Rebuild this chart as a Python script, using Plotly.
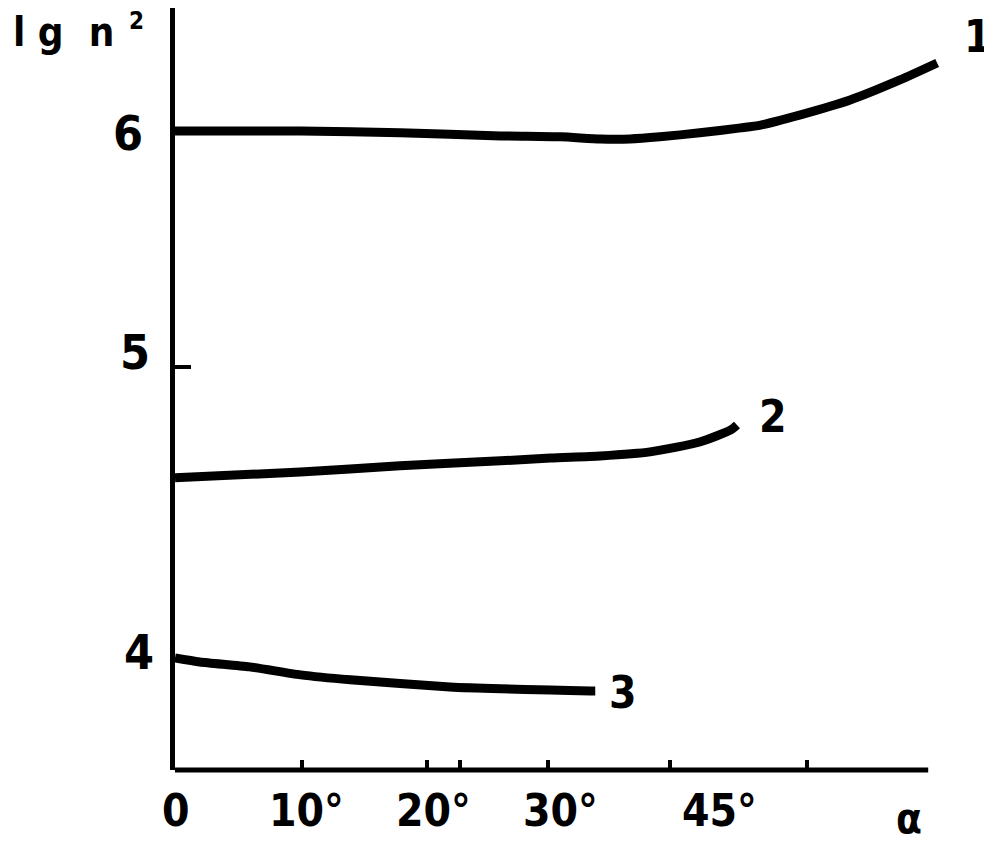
import plotly.graph_objects as go

# ---- data (alpha in degrees, lg n^2) ----
c1_alpha = [0, 6.0, 10.1, 18.1, 26.2, 31.0, 34.2, 36.6, 39.0, 42.2, 45.5, 47.1, 50.3, 54.3, 58.3, 61.3]
c1_lgn2 = [6.0, 6.0, 6.0, 5.992, 5.979, 5.975, 5.966, 5.966, 5.975, 5.992, 6.013, 6.025, 6.068, 6.131, 6.216, 6.288]

c2_alpha = [0, 10.1, 18.1, 26.2, 30.2, 34.2, 38.2, 42.2, 44.7, 45.2]
c2_lgn2 = [4.530, 4.555, 4.581, 4.602, 4.614, 4.623, 4.640, 4.682, 4.733, 4.754]

c3_alpha = [0, 2.0, 6.0, 10.1, 14.1, 22.1, 26.2, 30.2, 33.4, 33.8]
c3_lgn2 = [3.767, 3.750, 3.729, 3.695, 3.674, 3.644, 3.636, 3.631, 3.627, 3.627]

curve_labels = ["1", "2", "3"]
curve_label_pos = [(64.6, 6.40), (48.1, 4.79), (36.0, 3.62)]

x_tick_marks = [10.2, 20.3, 22.9, 30.0, 39.8, 50.8]
x_label_text = ["0", "10°", "20°", "30°", "45°"]
x_label_pos = [0.1, 10.6, 20.8, 31.0, 43.8]
y_tick_marks = [5]
y_label_text = ["6", "5", "4"]
y_label_pos = [5.99, 5.064, 3.792]
y_label_x = [-3.8, -3.2, -2.9]

X_RANGE = [0, 61.93]
X_AXIS_END = 60.58
Y_RANGE = [3.292, 6.521]

FONT = "DejaVu Sans Condensed"


def px(x):
    return (x - X_RANGE[0]) / (X_RANGE[1] - X_RANGE[0])


def py(y):
    return (y - Y_RANGE[0]) / (Y_RANGE[1] - Y_RANGE[0])


fig = go.Figure()
for xs, ys in [(c1_alpha, c1_lgn2), (c2_alpha, c2_lgn2), (c3_alpha, c3_lgn2)]:
    fig.add_trace(go.Scatter(x=xs, y=ys, mode="lines",
                             line=dict(color="black", width=9, shape="spline", smoothing=0.6),
                             showlegend=False, hoverinfo="skip"))

F = dict(family=FONT, size=44, color="black", weight="bold")
FY = dict(family=FONT, size=48, color="black", weight="bold")
A = dict(xref="paper", yref="paper", showarrow=False, xanchor="center", yanchor="middle")
annotations = []
for t, (x, y) in zip(curve_labels, curve_label_pos):
    annotations.append(dict(x=px(x), y=py(y), text=t, font=F, **A))
for t, x in zip(x_label_text, x_label_pos):
    annotations.append(dict(x=px(x), y=py(3.119), text=t, font=F, **A))
for t, x, y in zip(y_label_text, y_label_x, y_label_pos):
    annotations.append(dict(x=px(x), y=py(y), text=t, font=FY, **A))
annotations.append(dict(x=px(59.0), y=py(3.085), text="α",
                        font=dict(family=FONT, size=42, color="black", weight="bold"), **A))
annotations.append(dict(x=px(-9.0), y=py(6.42), text="l g  n",
                        font=dict(family=FONT, size=40, color="black", weight="bold"), **A))
annotations.append(dict(x=px(-3.1), y=py(6.465), text="2",
                        font=dict(family=FONT, size=24, color="black", weight="bold"), **A))

fig.add_shape(type="line", xref="x", yref="y domain", x0=0, x1=X_AXIS_END, y0=0, y1=0,
              line=dict(color="black", width=5))

fig.update_layout(
    width=984, height=836,
    margin=dict(l=167, r=47, t=0, b=74),
    paper_bgcolor="white", plot_bgcolor="white",
    annotations=annotations,
    xaxis=dict(range=X_RANGE, showgrid=False, zeroline=False, showline=False,
               tickvals=x_tick_marks, ticks="inside", ticklen=10, tickwidth=4,
               tickcolor="black", showticklabels=False),
    yaxis=dict(range=Y_RANGE, showgrid=False, zeroline=False, showline=True,
               linecolor="black", linewidth=5,
               tickvals=y_tick_marks, ticks="inside", ticklen=16, tickwidth=4,
               tickcolor="black", showticklabels=False),
)

fig.write_html("out.html")
